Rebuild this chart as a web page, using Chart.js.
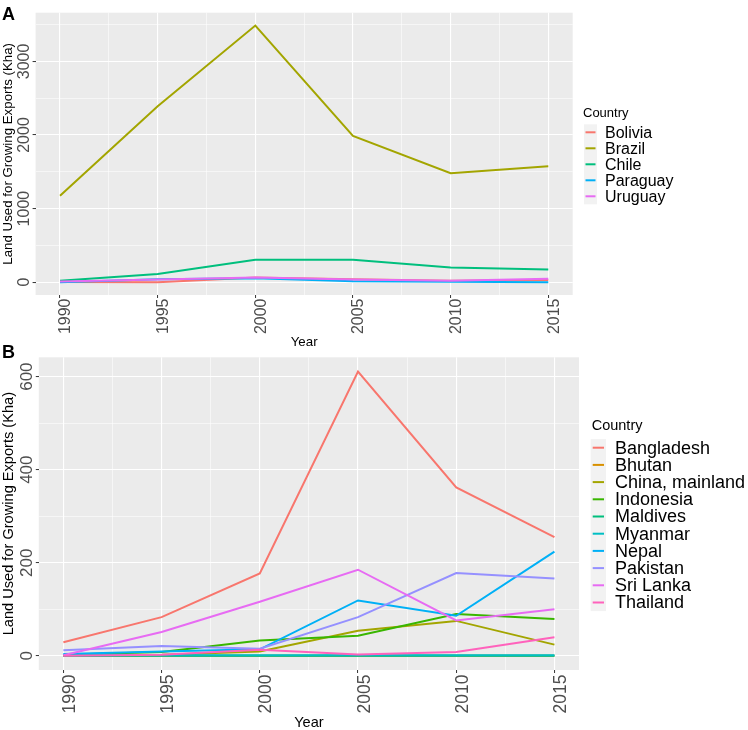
<!DOCTYPE html>
<html>
<head>
<meta charset="utf-8">
<script src="https://cdn.jsdelivr.net/npm/chart.js@4.4.1/dist/chart.umd.min.js"></script>
<style>
    html, body { margin: 0; padding: 0; background: #fff; }
    body { width: 748px; height: 730px; position: relative; overflow: hidden; font-family: "Liberation Sans", Arial, sans-serif; }
    canvas { position: absolute; left: 0; }
    #chartA { top: 0; }
    #chartB { top: 338px; }
    .tag { position: absolute; left: 2px; font-weight: bold; font-size: 18px; line-height: 1; color: #000; }
</style>
</head>
<body>
<canvas id="chartA" width="748" height="352"></canvas>
<canvas id="chartB" width="748" height="394"></canvas>
<div class="tag" style="top:5px">A</div>
<div class="tag" style="top:343px">B</div>
<script>
var years = [1990, 1995, 2000, 2005, 2010, 2015];
var legendTitle = 'Country';
var yTitle = 'Land Used for Growing Exports (Kha)';
var xTitle = 'Year';

// Panel A
var countriesA = ['Bolivia', 'Brazil', 'Chile', 'Paraguay', 'Uruguay'];
var bolivia  = [3, 0, 62, 40, 18, 30];
var brazil   = [1174, 2390, 3488, 1987, 1482, 1577];
var chile    = [18, 112, 306, 306, 198, 171];
var paraguay = [0, 38, 54, 14, 5, 0];
var uruguay  = [10, 35, 62, 35, 20, 45];
var colorsA  = ['#F8766D', '#A3A500', '#00BF7D', '#00B0F6', '#E76BF3'];
var yTicksA  = [0, 1000, 2000, 3000];

// Panel B
var countriesB = ['Bangladesh', 'Bhutan', 'China, mainland', 'Indonesia', 'Maldives',
                  'Myanmar', 'Nepal', 'Pakistan', 'Sri Lanka', 'Thailand'];
var bangladesh = [29, 83, 177, 611, 362, 255];
var bhutan     = [0, 0, 0, 0, 0, 0];
var china      = [0, 2, 9, 54, 75, 24];
var indonesia  = [2, 8, 33, 43, 90, 79];
var maldives   = [0, 0, 0, 0, 0, 0];
var myanmar    = [1, 1, 1, 1, 1, 1];
var nepal      = [4, 9, 14, 119, 86, 224];
var pakistan   = [12, 21, 15, 83, 178, 166];
var sriLanka   = [1, 51, 116, 185, 76, 100];
var thailand   = [0, 2, 13, 3, 8, 40];
var colorsB = ['#F8766D', '#D89000', '#A3A500', '#39B600', '#00BF7D',
               '#00BFC4', '#00B0F6', '#9590FF', '#E76BF3', '#FF62BC'];
var yTicksB = [0, 200, 400, 600];

var FONT = '"Liberation Sans", Arial, sans-serif';
Chart.defaults.font.family = FONT;

// grey panel behind the grid
var panelBg = {
    id: 'panelBg',
    beforeDraw: function (chart) {
        var a = chart.chartArea, ctx = chart.ctx;
        ctx.save();
        ctx.fillStyle = '#EBEBEB';
        ctx.fillRect(a.left, a.top, a.right - a.left, a.bottom - a.top);
        ctx.restore();
    }
};

// rotated tick labels on both axes (ggplot angle = 90)
var ggTickLabels = {
    id: 'ggTickLabels',
    afterDraw: function (chart, args, o) {
        var x = chart.scales.x, y = chart.scales.y, ctx = chart.ctx;
        ctx.save();
        ctx.fillStyle = '#4D4D4D';
        ctx.textBaseline = 'middle';
        ctx.font = o.ySize + 'px ' + FONT;
        ctx.textAlign = 'center';
        o.yValues.forEach(function (v) {
            ctx.save();
            ctx.translate(o.yX, y.getPixelForValue(v));
            ctx.rotate(-Math.PI / 2);
            ctx.fillText(String(v), 0, 0);
            ctx.restore();
        });
        ctx.font = o.xSize + 'px ' + FONT;
        ctx.textAlign = 'right';
        o.xValues.forEach(function (v) {
            ctx.save();
            ctx.translate(x.getPixelForValue(v) + o.xDx, x.top + o.xPad);
            ctx.rotate(-Math.PI / 2);
            ctx.fillText(String(v), 0, 0);
            ctx.restore();
        });
        ctx.restore();
    }
};

var ggLegend = {
    id: 'ggLegend',
    afterDraw: function (chart, args, o) {
        var ctx = chart.ctx, ds = chart.data.datasets;
        ctx.save();
        ctx.textAlign = 'left';
        ctx.textBaseline = 'middle';
        ctx.fillStyle = '#000';
        ctx.font = o.titleSize + 'px ' + FONT;
        ctx.fillText(legendTitle, o.x, o.titleY);
        ctx.fillStyle = '#F2F2F2';
        ctx.fillRect(o.keyX, o.keyY - o.step / 2, o.keyW, o.step * ds.length);
        ds.forEach(function (d, i) {
            var cy = o.keyY + i * o.step;
            ctx.strokeStyle = d.borderColor;
            ctx.lineWidth = 2;
            ctx.beginPath();
            ctx.moveTo(o.keyX + o.inset, cy);
            ctx.lineTo(o.keyX + o.keyW - o.inset, cy);
            ctx.stroke();
            ctx.fillStyle = '#000';
            ctx.font = o.labelSize + 'px ' + FONT;
            ctx.fillText(d.label, o.textX, cy + 1);
        });
        ctx.restore();
    }
};

function withMinors(major, lo, hi) {
    var half = (major[1] - major[0]) / 2, out = [];
    for (var v = major[0] - half; v <= hi; v += half) if (v >= lo) out.push(v);
    return out;
}

function makeChart(id, names, series, colors, yMajor, cfg) {
    var all = [].concat.apply([], series);
    var lo = Math.min.apply(null, all), hi = Math.max.apply(null, all);
    var yMin = lo - (hi - lo) * 0.05, yMax = hi + (hi - lo) * 0.05;
    var span = years[years.length - 1] - years[0];
    var xMin = years[0] - span * 0.05, xMax = years[years.length - 1] + span * 0.05;
    var xAll = withMinors(years, xMin, xMax), yAll = withMinors(yMajor, yMin, yMax);
    function isMajorX(v) { return years.indexOf(v) !== -1; }
    function isMajorY(v) { return yMajor.indexOf(v) !== -1; }

    var datasets = names.map(function (n, i) {
        return {
            label: n,
            data: series[i].map(function (v, j) { return { x: years[j], y: v }; }),
            borderColor: colors[i],
            backgroundColor: colors[i],
            borderWidth: 2,
            pointRadius: 0,
            tension: 0,
            order: names.length - i
        };
    });

    return new Chart(document.getElementById(id), {
        type: 'line',
        data: { datasets: datasets },
        plugins: [panelBg, ggTickLabels, ggLegend],
        options: {
            responsive: false,
            animation: false,
            events: [],
            layout: { padding: { left: 0, top: cfg.top, right: cfg.right, bottom: 0 } },
            plugins: {
                legend: { display: false },
                tooltip: { enabled: false },
                ggTickLabels: {
                    yX: cfg.yLabelX, ySize: cfg.yLabelSize, yValues: yMajor,
                    xSize: cfg.xLabelSize, xDx: cfg.xDx, xPad: cfg.xPad, xValues: years
                },
                ggLegend: cfg.legend
            },
            scales: {
                x: {
                    type: 'linear',
                    min: xMin, max: xMax,
                    afterBuildTicks: function (s) { s.ticks = xAll.map(function (v) { return { value: v }; }); },
                    afterFit: function (s) { s.height = cfg.xHeight; },
                    border: { display: false },
                    grid: {
                        color: '#FFFFFF',
                        lineWidth: function (c) { return isMajorX(c.tick.value) ? 1.1 : 0.55; },
                        tickColor: function (c) { return isMajorX(c.tick.value) ? '#333333' : 'rgba(0,0,0,0)'; },
                        tickLength: 3,
                        tickWidth: 1
                    },
                    ticks: { display: false },
                    title: {
                        display: true, text: xTitle, color: '#000',
                        font: { size: cfg.titleSize }, padding: { top: 0, bottom: cfg.xTitlePad }
                    }
                },
                y: {
                    type: 'linear',
                    min: yMin, max: yMax,
                    afterBuildTicks: function (s) { s.ticks = yAll.map(function (v) { return { value: v }; }); },
                    afterFit: function (s) { s.width = cfg.yWidth; },
                    border: { display: false },
                    grid: {
                        color: '#FFFFFF',
                        lineWidth: function (c) { return isMajorY(c.tick.value) ? 1.1 : 0.55; },
                        tickColor: function (c) { return isMajorY(c.tick.value) ? '#333333' : 'rgba(0,0,0,0)'; },
                        tickLength: 3,
                        tickWidth: 1
                    },
                    ticks: { display: false },
                    title: {
                        display: true, text: yTitle, color: '#000',
                        font: { size: cfg.titleSize }, padding: { top: 0, bottom: 0 }
                    }
                }
            }
        }
    });
}

makeChart('chartA', countriesA, [bolivia, brazil, chile, paraguay, uruguay], colorsA, yTicksA, {
    top: 12.7, right: 175.3, yWidth: 35.6, xHeight: 57,
    xDx: 6, xPad: 3.5, xLabelSize: 16, titleSize: 13.3, xTitlePad: 1.2,
    yLabelX: 25, yLabelSize: 16,
    legend: { x: 583, titleY: 113, titleSize: 13, keyX: 584, keyW: 13, keyY: 132.3, step: 16,
              inset: 1.5, textX: 605, labelSize: 16 }
});

makeChart('chartB', countriesB,
    [bangladesh, bhutan, china, indonesia, maldives, myanmar, nepal, pakistan, sriLanka, thailand],
    colorsB, yTicksB, {
    top: 19.3, right: 169, yWidth: 38.8, xHeight: 62,
    xDx: 6.7, xPad: 4.5, xLabelSize: 17.5, titleSize: 14.6, xTitlePad: 0.3,
    yLabelX: 27.5, yLabelSize: 17,
    legend: { x: 591.7, titleY: 88, titleSize: 14.5, keyX: 590.7, keyW: 15.3, keyY: 109.7, step: 17.2,
              inset: 2, textX: 615, labelSize: 18 }
});
</script>
</body>
</html>
